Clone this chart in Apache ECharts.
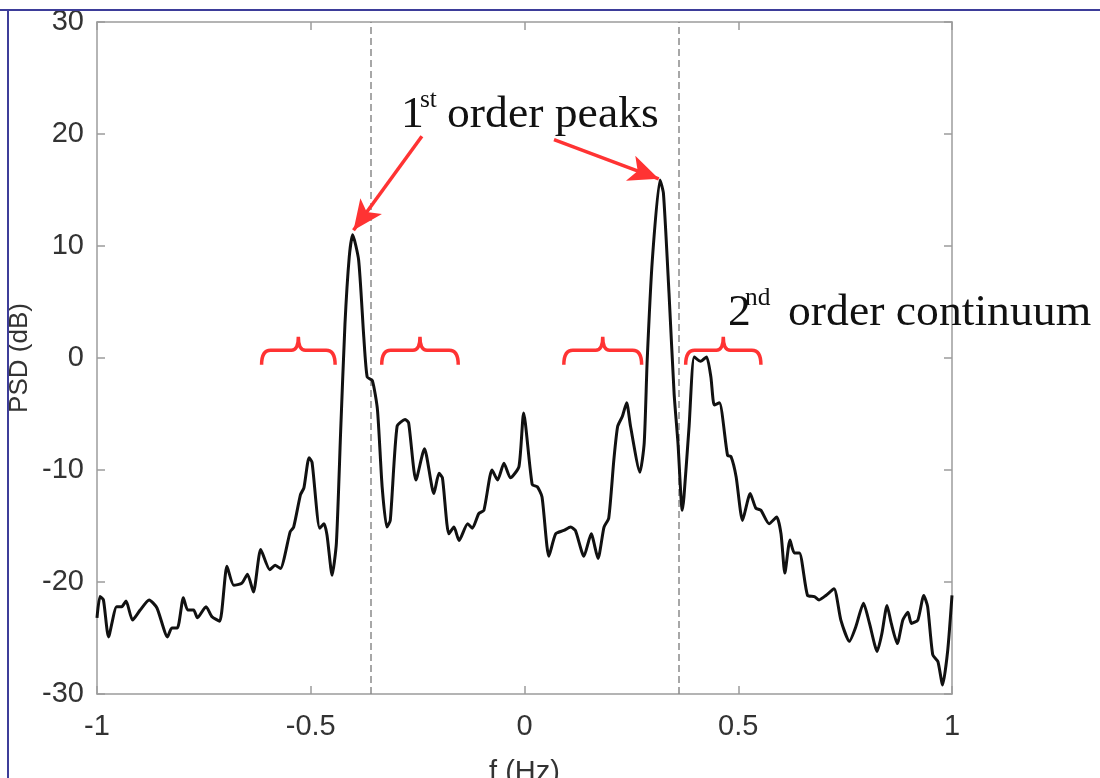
<!DOCTYPE html>
<html>
<head>
<meta charset="utf-8">
<script src="https://cdn.jsdelivr.net/npm/echarts@6/dist/echarts.min.js"></script>
<style>
  html, body { margin: 0; padding: 0; background: #fff; }
  #chart { width: 1100px; height: 778px; }
</style>
</head>
<body>
<div id="chart"></div>
<script>
// frequency (Hz) and PSD (dB)
var freq = [
  -1.000, -0.993, -0.985, -0.973, -0.954, -0.942, -0.932, -0.917, -0.899, -0.878,
  -0.860, -0.835, -0.825, -0.812, -0.798, -0.788, -0.774, -0.765, -0.745, -0.731,
  -0.713, -0.696, -0.680, -0.661, -0.648, -0.634, -0.617, -0.596, -0.583, -0.571,
  -0.548, -0.540, -0.524, -0.516, -0.504, -0.497, -0.479, -0.469, -0.462, -0.450,
  -0.440, -0.430, -0.420, -0.410, -0.402, -0.388, -0.376, -0.368, -0.356, -0.344,
  -0.333, -0.322, -0.314, -0.298, -0.279, -0.271, -0.254, -0.234, -0.212, -0.200,
  -0.192, -0.177, -0.165, -0.153, -0.133, -0.122, -0.107, -0.095, -0.076, -0.063,
  -0.048, -0.033, -0.013, -0.002, 0.018, 0.030, 0.041, 0.057, 0.073, 0.092,
  0.108, 0.119, 0.139, 0.156, 0.172, 0.186, 0.197, 0.209, 0.218, 0.229,
  0.239, 0.248, 0.270, 0.280, 0.287, 0.299, 0.317, 0.325, 0.338, 0.350,
  0.359, 0.369, 0.373, 0.385, 0.397, 0.412, 0.426, 0.436, 0.444, 0.456,
  0.475, 0.483, 0.495, 0.510, 0.528, 0.541, 0.553, 0.572, 0.590, 0.600,
  0.609, 0.621, 0.631, 0.643, 0.662, 0.678, 0.689, 0.705, 0.724, 0.740,
  0.760, 0.775, 0.793, 0.807, 0.825, 0.836, 0.848, 0.858, 0.872, 0.885,
  0.897, 0.905, 0.920, 0.934, 0.943, 0.955, 0.967, 0.978, 0.990, 1.000
];
var psd = [
  -23.2, -21.3, -21.6, -24.9, -22.2, -22.2, -21.7, -23.4, -22.5, -21.6,
  -22.3, -24.9, -24.1, -24.1, -21.4, -22.5, -22.5, -23.2, -22.2, -23.1,
  -23.5, -18.6, -20.3, -20.1, -19.3, -20.9, -17.1, -18.9, -18.5, -18.8,
  -15.5, -15.1, -12.2, -11.6, -8.9, -9.3, -15.2, -14.8, -15.8, -19.4,
  -16.5, -6.5, 3.0, 9.0, 11.0, 8.75, 1.9, -1.7, -2.0, -4.6,
  -11.5, -15.1, -14.5, -6.1, -5.5, -5.8, -10.9, -8.1, -12.1, -10.3,
  -10.7, -15.7, -15.1, -16.3, -14.8, -15.2, -13.9, -13.6, -10.0, -10.9,
  -9.4, -10.7, -9.7, -4.9, -11.3, -11.5, -12.4, -17.7, -15.7, -15.4,
  -15.1, -15.4, -17.7, -15.7, -17.9, -15.1, -14.3, -9.1, -6.1, -5.2,
  -4.0, -6.1, -10.2, -7.6, -0.2, 8.75, 15.9, 14.7, 5.8, -3.2,
  -7.6, -13.6, -12.4, -6.1, 0.1, -0.3, 0.1, -1.7, -4.2, -4.0,
  -8.7, -8.8, -10.6, -14.5, -12.1, -13.4, -13.6, -14.8, -14.2, -15.7,
  -19.2, -16.25, -17.4, -17.4, -21.2, -21.3, -21.6, -21.2, -20.6, -23.4,
  -25.3, -24.0, -21.9, -23.7, -26.2, -24.6, -22.1, -23.7, -25.5, -23.4,
  -22.7, -23.7, -23.4, -21.2, -22.2, -26.5, -27.1, -29.2, -26.1, -21.2
];

// dashed guide lines (Hz)
var guideLines = [-0.36, 0.36];

// annotation arrows: [start, tip] in data units
var arrowLines = [
  [[-0.240, 19.8], [-0.400, 11.4]],
  [[0.069, 19.5], [0.314, 16.0]]
];

// braces marking the 2nd order continuum: [fStart, fEnd]
var braceSpans = [[-0.615, -0.443], [-0.334, -0.155], [0.092, 0.274], [0.377, 0.553]];
var braceTop = 0.7, braceEnd = -0.6, braceCusp = 1.9;

var chart = echarts.init(document.getElementById('chart'));

var axisGrey = '#9c9c9c';
var labelColor = '#333';
var red = '#ff3333';
var serif = '"Liberation Serif", "Times New Roman", serif';
var sans = '"Liberation Sans", Arial, sans-serif';

// one piece of annotation text
function annoText(t, x, y, size) {
  return {
    type: 'text', x: x, y: y, scaleX: 1.015, z: 10,
    style: { text: t, font: size + 'px ' + serif, fill: '#111', verticalAlign: 'middle' }
  };
}

var option = {
  animation: false,
  grid: { left: 97, right: 148, top: 22, bottom: 84, containLabel: false, outerBoundsMode: 'none' },
  xAxis: [
    {
      type: 'value', min: -1, max: 1, interval: 0.5,
      name: 'f (Hz)', nameLocation: 'middle', nameGap: 64,
      nameTextStyle: { fontSize: 29, color: labelColor, fontFamily: sans },
      axisLine: { show: true, onZero: false, lineStyle: { color: axisGrey, width: 1.5 } },
      axisTick: { show: true, inside: true, length: 8, lineStyle: { color: axisGrey, width: 1.5 } },
      axisLabel: { fontSize: 29, color: labelColor, fontFamily: sans, margin: 18 },
      splitLine: { show: false }
    },
    {
      type: 'value', min: -1, max: 1, interval: 0.5, position: 'top',
      axisLine: { show: true, onZero: false, lineStyle: { color: axisGrey, width: 1.5 } },
      axisTick: { show: true, inside: true, length: 8, lineStyle: { color: axisGrey, width: 1.5 } },
      axisLabel: { show: false },
      splitLine: { show: false }
    }
  ],
  yAxis: [
    {
      type: 'value', min: -30, max: 30, interval: 10,
      name: 'PSD (dB)', nameLocation: 'middle', nameGap: 64, nameMoveOverlap: false,
      nameTextStyle: { fontSize: 26, color: labelColor, fontFamily: sans },
      axisLine: { show: true, onZero: false, lineStyle: { color: axisGrey, width: 1.5 } },
      axisTick: { show: true, inside: true, length: 8, lineStyle: { color: axisGrey, width: 1.5 } },
      axisLabel: { fontSize: 29, color: labelColor, fontFamily: sans, margin: 13 },
      splitLine: { show: false }
    },
    {
      type: 'value', min: -30, max: 30, interval: 10, position: 'right',
      axisLine: { show: true, onZero: false, lineStyle: { color: axisGrey, width: 1.5 } },
      axisTick: { show: true, inside: true, length: 8, lineStyle: { color: axisGrey, width: 1.5 } },
      axisLabel: { show: false },
      splitLine: { show: false }
    }
  ],
  series: [
    {
      type: 'line',
      data: freq.map(function (f, i) { return [f, psd[i]]; }),
      showSymbol: false,
      smooth: 0.2,
      lineStyle: { color: '#111', width: 3 },
      z: 3,
      markLine: {
        silent: true,
        symbol: ['none', 'none'],
        label: { show: false },
        lineStyle: { color: '#8a8a8a', type: [7, 4], width: 1.5 },
        data: guideLines.map(function (v) { return { xAxis: v }; }),
        z: 2
      }
    },
    {
      type: 'line',
      data: [],
      markLine: {
        silent: true,
        symbol: ['none', 'arrow'],
        symbolSize: [20, 30],
        label: { show: false },
        lineStyle: { color: red, type: 'solid', width: 3.5 },
        itemStyle: { color: red },
        data: arrowLines.map(function (a) {
          return [{ coord: a[0] }, { coord: a[1] }];
        })
      },
      z: 5
    },
    {
      type: 'custom',
      data: braceSpans.map(function (b) { return [b[0], b[1], braceTop]; }),
      encode: { x: [0, 1], y: 2 },
      z: 4,
      renderItem: function (params, api) {
        var pL = api.coord([api.value(0), braceTop]);
        var pR = api.coord([api.value(1), braceTop]);
        var yT = pL[1];
        var yE = api.coord([api.value(0), braceEnd])[1];
        var yC = api.coord([api.value(0), braceCusp])[1];
        var x0 = pL[0], x1 = pR[0], xm = (x0 + x1) / 2;
        var r = 9, r2 = 7;
        var d = 'M' + x0 + ',' + yE +
          ' Q' + x0 + ',' + yT + ' ' + (x0 + r) + ',' + yT +
          ' L' + (xm - r2) + ',' + yT +
          ' Q' + xm + ',' + yT + ' ' + xm + ',' + yC +
          ' Q' + xm + ',' + yT + ' ' + (xm + r2) + ',' + yT +
          ' L' + (x1 - r) + ',' + yT +
          ' Q' + x1 + ',' + yT + ' ' + x1 + ',' + yE;
        return {
          type: 'path',
          shape: { pathData: d },
          style: { fill: 'none', stroke: red, lineWidth: 3.5 }
        };
      }
    }
  ],
  graphic: [
    { type: 'line', shape: { x1: 0, y1: 10, x2: 1100, y2: 10 }, style: { stroke: '#3d3d99', lineWidth: 2 }, z: 10 },
    { type: 'line', shape: { x1: 8, y1: 10, x2: 8, y2: 778 }, style: { stroke: '#3d3d99', lineWidth: 2 }, z: 10 },
    annoText('1', 401, 115, 45),
    annoText('st', 420, 100, 25),
    annoText('order peaks', 447, 115, 45),
    annoText('2', 728, 313, 45),
    annoText('nd', 745, 298, 25),
    annoText('order continuum', 788, 313, 45)
  ]
};

chart.setOption(option);
</script>
</body>
</html>
